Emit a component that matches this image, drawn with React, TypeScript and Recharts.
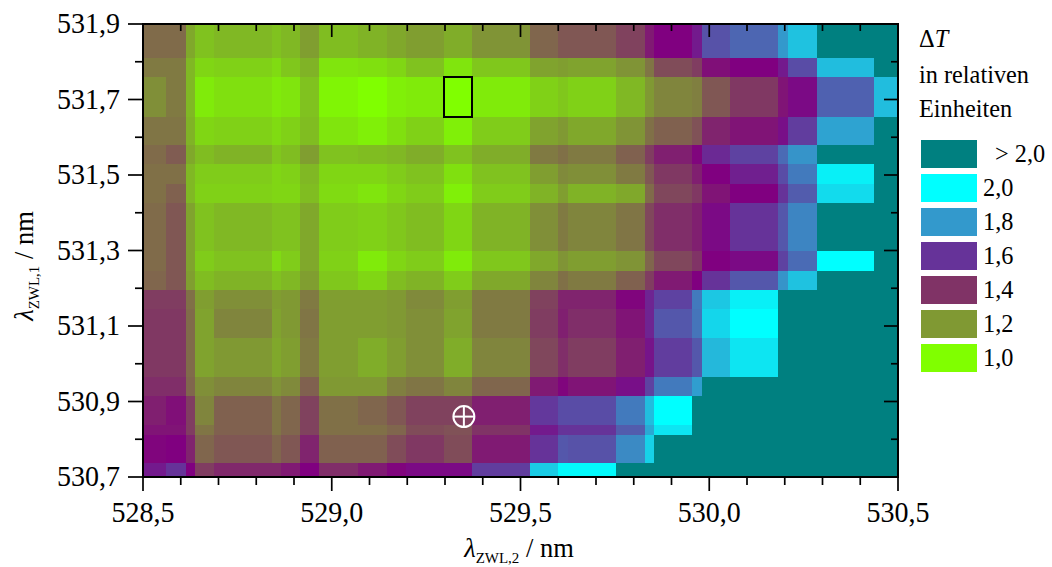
import React from 'react';
import { ScatterChart, Scatter, XAxis, YAxis, ReferenceArea } from 'recharts';

// cell edges in nm
const xEdges = [528.5, 528.561, 528.614, 528.638, 528.688, 528.842, 528.866, 528.916, 528.966, 529.07, 529.146, 529.197, 529.297, 529.371, 529.525, 529.599, 529.626, 529.753, 529.83, 529.854, 529.954, 529.981, 530.055, 530.182, 530.209, 530.285, 530.436, 530.5];
const yEdges = [531.9, 531.81, 531.76, 531.654, 531.579, 531.529, 531.476, 531.426, 531.299, 531.246, 531.195, 531.145, 531.068, 530.965, 530.915, 530.838, 530.811, 530.737, 530.7];

// delta T per cell, top row first (2.5 stands for "> 2,0")
const row0 = [1.29, 1.29, 1.17, 1.12, 1.14, 1.12, 1.14, 1.19, 1.13, 1.15, 1.17, 1.19, 1.16, 1.21, 1.30, 1.33, 1.33, 1.37, 1.45, 1.50, 1.55, 1.66, 1.70, 1.80, 1.88, 2.5, 2.5];
const row1 = [1.26, 1.26, 1.14, 1.08, 1.09, 1.07, 1.11, 1.15, 1.05, 1.06, 1.08, 1.12, 1.05, 1.11, 1.18, 1.19, 1.18, 1.21, 1.27, 1.35, 1.38, 1.47, 1.50, 1.55, 1.65, 1.87, 2.5];
const row2 = [1.22, 1.26, 1.14, 1.04, 1.06, 1.04, 1.05, 1.12, 1.02, 1.00, 1.03, 1.04, 1.00, 1.04, 1.09, 1.11, 1.09, 1.14, 1.20, 1.24, 1.25, 1.33, 1.39, 1.46, 1.52, 1.69, 1.87];
const row3 = [1.27, 1.27, 1.15, 1.08, 1.09, 1.07, 1.09, 1.13, 1.05, 1.03, 1.06, 1.09, 1.03, 1.10, 1.18, 1.20, 1.17, 1.21, 1.28, 1.31, 1.34, 1.43, 1.46, 1.53, 1.62, 1.82, 2.5];
const row4 = [1.29, 1.32, 1.17, 1.13, 1.15, 1.11, 1.13, 1.19, 1.12, 1.13, 1.14, 1.16, 1.12, 1.16, 1.26, 1.28, 1.26, 1.31, 1.38, 1.44, 1.49, 1.58, 1.63, 1.71, 1.79, 2.5, 2.5];
const row5 = [1.28, 1.28, 1.14, 1.10, 1.10, 1.08, 1.09, 1.14, 1.08, 1.08, 1.10, 1.12, 1.06, 1.12, 1.19, 1.23, 1.22, 1.26, 1.33, 1.39, 1.44, 1.50, 1.56, 1.65, 1.74, 1.97, 2.5];
const row6 = [1.28, 1.31, 1.14, 1.09, 1.09, 1.08, 1.08, 1.13, 1.07, 1.05, 1.08, 1.10, 1.03, 1.10, 1.15, 1.19, 1.15, 1.17, 1.29, 1.36, 1.39, 1.46, 1.50, 1.60, 1.68, 1.93, 2.5];
const row7 = [1.29, 1.33, 1.18, 1.12, 1.14, 1.12, 1.12, 1.17, 1.10, 1.09, 1.11, 1.13, 1.08, 1.15, 1.22, 1.26, 1.24, 1.27, 1.36, 1.41, 1.44, 1.52, 1.60, 1.67, 1.76, 2.5, 2.5];
const row8 = [1.29, 1.33, 1.18, 1.10, 1.12, 1.07, 1.10, 1.17, 1.09, 1.04, 1.08, 1.10, 1.04, 1.11, 1.17, 1.21, 1.19, 1.21, 1.30, 1.36, 1.40, 1.50, 1.52, 1.63, 1.71, 2.0, 2.5];
const row9 = [1.30, 1.33, 1.19, 1.13, 1.15, 1.12, 1.14, 1.19, 1.11, 1.08, 1.13, 1.15, 1.10, 1.17, 1.24, 1.28, 1.26, 1.31, 1.38, 1.45, 1.50, 1.60, 1.67, 1.79, 1.88, 2.5, 2.5];
const row10 = [1.38, 1.38, 1.28, 1.19, 1.22, 1.19, 1.20, 1.26, 1.19, 1.19, 1.20, 1.23, 1.19, 1.26, 1.37, 1.43, 1.43, 1.49, 1.57, 1.63, 1.74, 1.89, 1.97, 2.5, 2.5, 2.5, 2.5];
const row11 = [1.39, 1.39, 1.29, 1.18, 1.24, 1.18, 1.20, 1.27, 1.19, 1.19, 1.20, 1.22, 1.18, 1.26, 1.38, 1.44, 1.41, 1.46, 1.57, 1.67, 1.73, 1.92, 2.0, 2.5, 2.5, 2.5, 2.5];
const row12 = [1.39, 1.39, 1.29, 1.18, 1.20, 1.17, 1.19, 1.26, 1.19, 1.16, 1.19, 1.22, 1.16, 1.24, 1.36, 1.41, 1.38, 1.44, 1.54, 1.62, 1.67, 1.86, 1.95, 2.5, 2.5, 2.5, 2.5];
const row13 = [1.41, 1.41, 1.30, 1.22, 1.24, 1.21, 1.23, 1.31, 1.20, 1.20, 1.25, 1.27, 1.24, 1.30, 1.45, 1.49, 1.46, 1.53, 1.63, 1.74, 1.81, 2.5, 2.5, 2.5, 2.5, 2.5, 2.5];
const row14 = [1.44, 1.47, 1.38, 1.24, 1.31, 1.27, 1.30, 1.37, 1.28, 1.30, 1.33, 1.37, 1.37, 1.44, 1.61, 1.65, 1.65, 1.74, 1.87, 2.0, 2.5, 2.5, 2.5, 2.5, 2.5, 2.5, 2.5];
const row15 = [1.46, 1.46, 1.38, 1.27, 1.31, 1.27, 1.30, 1.37, 1.28, 1.28, 1.30, 1.35, 1.34, 1.40, 1.55, 1.60, 1.60, 1.68, 1.83, 1.95, 2.5, 2.5, 2.5, 2.5, 2.5, 2.5, 2.5];
const row16 = [1.49, 1.50, 1.43, 1.30, 1.33, 1.30, 1.33, 1.43, 1.31, 1.31, 1.35, 1.39, 1.35, 1.45, 1.60, 1.67, 1.66, 1.77, 1.91, 2.5, 2.5, 2.5, 2.5, 2.5, 2.5, 2.5, 2.5];
const row17 = [1.55, 1.60, 1.50, 1.38, 1.42, 1.42, 1.45, 1.50, 1.41, 1.45, 1.49, 1.52, 1.52, 1.62, 1.90, 1.99, 1.99, 2.5, 2.5, 2.5, 2.5, 2.5, 2.5, 2.5, 2.5, 2.5, 2.5];
const rows = [row0, row1, row2, row3, row4, row5, row6, row7, row8, row9, row10, row11, row12, row13, row14, row15, row16, row17];

const xTicks = [528.5, 528.6, 528.7, 528.8, 528.9, 529.0, 529.1, 529.2, 529.3, 529.4, 529.5, 529.6, 529.7, 529.8, 529.9, 530.0, 530.1, 530.2, 530.3, 530.4, 530.5];
const xLabelled = [528.5, 529.0, 529.5, 530.0, 530.5];
const yTicks = [530.7, 530.8, 530.9, 531.0, 531.1, 531.2, 531.3, 531.4, 531.5, 531.6, 531.7, 531.8, 531.9];
const yLabelled = [530.7, 530.9, 531.1, 531.3, 531.5, 531.7, 531.9];

// colour scale stops
const stopValues = [1.0, 1.2, 1.4, 1.5, 1.6, 1.8, 2.0];
const stopColors = [[128, 255, 0], [128, 153, 51], [128, 51, 102], [128, 0, 128], [102, 51, 153], [51, 153, 204], [0, 255, 255]];
const overColor = '#008080';

const legendLabels = ['> 2,0', '2,0', '1,8', '1,6', '1,4', '1,2', '1,0'];
const legendColors = ['#008080', '#00ffff', '#3399cc', '#663399', '#803366', '#809933', '#80ff00'];

// markers: minimum box (a cell of the grid) and the circled cross
const crossPoint = [{ x: 529.35, y: 530.86 }];
const boxColumn = 12;
const boxRow = 2;

// the inward ticks have to sit on top of the cells, so they are drawn as points
const topTickPoints = xTicks.map((x) => ({ x, y: 531.9 }));
const rightTickPoints = yTicks.map((y) => ({ x: 530.5, y }));

const FONT = '"Liberation Serif", "Times New Roman", serif';
const TICK_STYLE = { shapeRendering: 'geometricPrecision' } as const;

const cellColor = (v: number) => {
  if (v > 2) return overColor;
  let i = 0;
  while (i < stopValues.length - 2 && v > stopValues[i + 1]) i++;
  const t = (v - stopValues[i]) / (stopValues[i + 1] - stopValues[i]);
  const c = stopColors[i].map((a, k) => Math.round(a + (stopColors[i + 1][k] - a) * t));
  return `rgb(${c[0]},${c[1]},${c[2]})`;
};

const fmt = (v: number) => v.toFixed(1).replace('.', ',');

const TickLabel = (props: any) => (
  <text
    {...props}
    fontFamily={FONT}
    fontSize={29.5}
    fill="#000"
    textLength={63}
    lengthAdjust="spacingAndGlyphs"
  />
);

const BottomTick = ({ x, y, payload }: any) => {
  const major = xLabelled.includes(payload.value);
  return (
    <g>
      <line x1={x} x2={x} y1={y} y2={y + (major ? 14 : 8)} stroke="#000" strokeWidth={1.7} style={TICK_STYLE} />
      {major && (
        <TickLabel x={x} y={y + 45} textAnchor="middle">
          {fmt(payload.value)}
        </TickLabel>
      )}
    </g>
  );
};

const LeftTick = ({ x, y, payload }: any) => {
  const major = yLabelled.includes(payload.value);
  return (
    <g>
      <line x1={x} x2={x - (major ? 15 : 8)} y1={y} y2={y} stroke="#000" strokeWidth={1.7} style={TICK_STYLE} />
      {major && (
        <TickLabel x={x - 23} y={y + 9} textAnchor="end">
          {fmt(payload.value)}
        </TickLabel>
      )}
    </g>
  );
};

const TopTick = ({ cx, cy, payload }: any) => {
  const major = xLabelled.includes(payload.x);
  return <line x1={cx} x2={cx} y1={cy} y2={cy + (major ? 13 : 7)} stroke="#000" strokeWidth={1.7} style={TICK_STYLE} />;
};

const RightTick = ({ cx, cy, payload }: any) => {
  const major = yLabelled.includes(payload.y);
  return <line x1={cx} x2={cx - (major ? 14 : 7)} y1={cy} y2={cy} stroke="#000" strokeWidth={1.7} style={TICK_STYLE} />;
};

const CrossMark = ({ cx, cy }: any) => (
  <g stroke="#fff" strokeWidth={2} fill="none" style={TICK_STYLE}>
    <circle cx={cx} cy={cy} r={10.5} />
    <line x1={cx - 10.5} x2={cx + 10.5} y1={cy} y2={cy} />
    <line x1={cx} x2={cx} y1={cy - 10.5} y2={cy + 10.5} />
  </g>
);

const AxisTitle = ({ x, y, sub, rotate }: { x: number; y: number; sub: string; rotate?: boolean }) => (
  <text
    x={x}
    y={y}
    textAnchor="middle"
    fontFamily={FONT}
    fontSize={26.5}
    fill="#000"
    transform={rotate ? `rotate(-90 ${x} ${y})` : undefined}
  >
    <tspan fontStyle="italic">λ</tspan>
    <tspan fontSize={15} dy={6}>{sub}</tspan>
    <tspan dy={-6}> / nm</tspan>
  </text>
);

const ColorLegend = () => (
  <svg width={1052} height={567} style={{ position: 'absolute', left: 0, top: 0, pointerEvents: 'none' }}>
    <g fontFamily={FONT} fontSize={24.3} fill="#000">
      <text x={919} y={47}>
        Δ<tspan fontStyle="italic">T</tspan>
      </text>
      <text x={919} y={83}>in relativen</text>
      <text x={919} y={117}>Einheiten</text>
      {legendLabels.map((label, i) => (
        <g key={label}>
          <rect x={921} y={140 + i * 34} width={56} height={28} fill={legendColors[i]} />
          <text x={i === 0 ? 995 : 983} y={162 + i * 34}>{label}</text>
        </g>
      ))}
    </g>
  </svg>
);

export default function App() {
  return (
    <div style={{ position: 'absolute', left: 0, top: 0, width: 1052, height: 567, background: '#fff' }}>
      <ScatterChart
        width={1052}
        height={567}
        margin={{ top: 24, right: 154, bottom: 30, left: 3 }}
        style={{ shapeRendering: 'crispEdges' }}
      >
        <XAxis
          xAxisId="bottom"
          dataKey="x"
          type="number"
          domain={[528.5, 530.5]}
          ticks={xTicks}
          interval={0}
          height={60}
          tickSize={0}
          tickMargin={0}
          tickLine={false}
          tick={BottomTick}
          axisLine={{ stroke: '#000', strokeWidth: 2 }}
          label={{ content: () => <AxisTitle x={519} y={557} sub="ZWL,2" /> }}
        />
        <YAxis
          yAxisId="left"
          dataKey="y"
          type="number"
          domain={[530.7, 531.9]}
          ticks={yTicks}
          interval={0}
          width={140}
          tickSize={0}
          tickMargin={0}
          tickLine={false}
          tick={LeftTick}
          axisLine={{ stroke: '#000', strokeWidth: 2 }}
          label={{ content: () => <AxisTitle x={33} y={266} sub="ZWL,1" rotate /> }}
        />
        {rows.flatMap((row, r) =>
          row.map((v, c) => (
            <ReferenceArea
              key={`${r}-${c}`}
              xAxisId="bottom"
              yAxisId="left"
              x1={xEdges[c]}
              x2={xEdges[c + 1]}
              y1={yEdges[r]}
              y2={yEdges[r + 1]}
              fill={cellColor(v)}
              fillOpacity={1}
              stroke="none"
            />
          ))
        )}
        <ReferenceArea
          xAxisId="bottom"
          yAxisId="left"
          x1={xEdges[boxColumn]}
          x2={xEdges[boxColumn + 1]}
          y1={yEdges[boxRow]}
          y2={yEdges[boxRow + 1]}
          fill="none"
          stroke="#000"
          strokeWidth={2}
        />
        {/* plot frame */}
        <ReferenceArea
          xAxisId="bottom"
          yAxisId="left"
          x1={528.5}
          x2={530.5}
          y1={531.9}
          y2={530.7}
          fill="none"
          stroke="#000"
          strokeWidth={2}
        />
        <Scatter xAxisId="bottom" yAxisId="left" data={topTickPoints} shape={TopTick} isAnimationActive={false} />
        <Scatter xAxisId="bottom" yAxisId="left" data={rightTickPoints} shape={RightTick} isAnimationActive={false} />
        <Scatter xAxisId="bottom" yAxisId="left" data={crossPoint} shape={CrossMark} isAnimationActive={false} />
      </ScatterChart>
      <ColorLegend />
    </div>
  );
}
